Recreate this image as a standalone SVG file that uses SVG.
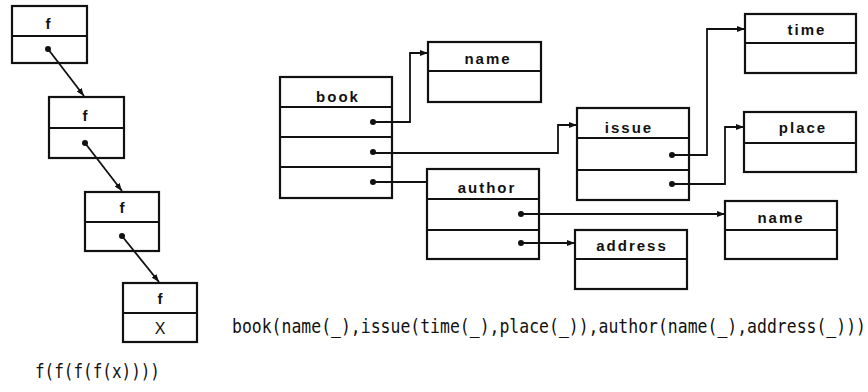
<svg xmlns="http://www.w3.org/2000/svg" width="868" height="392" viewBox="0 0 868 392">
  <style>
    .box { fill: #fff; stroke: #111; stroke-width: 2.2; }
    .div { stroke: #111; stroke-width: 2; }
    .lbl { font-family: "Liberation Sans", Arial, sans-serif; font-weight: bold; font-size: 15px; letter-spacing: 2px; fill: #111; text-anchor: middle; }
    .wire { fill: none; stroke: #111; stroke-width: 1.8; }
    .dot { fill: #111; }
    .code { font-family: "DejaVu Sans Mono", "Liberation Mono", monospace; font-size: 16px; fill: #111; }
  </style>
  <defs>
    <marker id="arrow" viewBox="0 0 8 6" refX="8" refY="3" markerWidth="8" markerHeight="6" markerUnits="userSpaceOnUse" orient="auto">
      <path d="M0,0 L8,3 L0,6 Z" fill="#111"/>
    </marker>
  </defs>

  <rect width="868" height="392" fill="#fff"/>

  <!-- nested f(...) cells -->
  <g id="f1">
    <rect class="box" x="12" y="6" width="75" height="57"/>
    <line class="div" x1="12" y1="36" x2="87" y2="36"/>
    <text class="lbl" x="49" y="29">f</text>
    <circle class="dot" cx="48" cy="49" r="3"/>
  </g>
  <g id="f2">
    <rect class="box" x="49" y="97" width="75" height="61"/>
    <line class="div" x1="49" y1="128" x2="124" y2="128"/>
    <text class="lbl" x="86" y="121">f</text>
    <circle class="dot" cx="85" cy="143" r="3"/>
  </g>
  <g id="f3">
    <rect class="box" x="85" y="192" width="74" height="59"/>
    <line class="div" x1="85" y1="222" x2="159" y2="222"/>
    <text class="lbl" x="123" y="213">f</text>
    <circle class="dot" cx="122" cy="236" r="3"/>
  </g>
  <g id="f4">
    <rect class="box" x="123" y="283" width="74" height="59"/>
    <line class="div" x1="123" y1="313" x2="197" y2="313"/>
    <text class="lbl" x="161" y="304">f</text>
    <text x="160" y="334" font-family="Liberation Sans, Arial, sans-serif" font-size="16" text-anchor="middle" fill="#111">X</text>
  </g>

  <!-- book record and its fields -->
  <g id="book">
    <rect class="box" x="280" y="77" width="112" height="121"/>
    <line class="div" x1="280" y1="107" x2="392" y2="107"/>
    <line class="div" x1="280" y1="137" x2="392" y2="137"/>
    <line class="div" x1="280" y1="167" x2="392" y2="167"/>
    <text class="lbl" x="338" y="102">book</text>
    <circle class="dot" cx="373" cy="122" r="3"/>
    <circle class="dot" cx="373" cy="152" r="3"/>
    <circle class="dot" cx="373" cy="182" r="3"/>
  </g>
  <g id="name1">
    <rect class="box" x="428" y="42" width="113" height="60"/>
    <line class="div" x1="428" y1="71" x2="541" y2="71"/>
    <text class="lbl" x="488" y="64">name</text>
  </g>
  <g id="issue">
    <rect class="box" x="577" y="108" width="112" height="92"/>
    <line class="div" x1="577" y1="138" x2="689" y2="138"/>
    <line class="div" x1="577" y1="170" x2="689" y2="170"/>
    <text class="lbl" x="629" y="133">issue</text>
    <circle class="dot" cx="672" cy="155" r="3"/>
    <circle class="dot" cx="672" cy="184" r="3"/>
  </g>
  <g id="time">
    <rect class="box" x="745" y="14" width="111" height="59"/>
    <line class="div" x1="745" y1="43" x2="856" y2="43"/>
    <text class="lbl" x="807" y="35">time</text>
  </g>
  <g id="place">
    <rect class="box" x="744" y="112" width="112" height="60"/>
    <line class="div" x1="744" y1="143" x2="856" y2="143"/>
    <text class="lbl" x="803" y="133">place</text>
  </g>
  <g id="author">
    <rect class="box" x="427" y="169" width="112" height="90"/>
    <line class="div" x1="427" y1="199" x2="539" y2="199"/>
    <line class="div" x1="427" y1="230" x2="539" y2="230"/>
    <text class="lbl" x="487" y="193">author</text>
    <circle class="dot" cx="521" cy="214" r="3"/>
    <circle class="dot" cx="521" cy="243" r="3"/>
  </g>
  <g id="name2">
    <rect class="box" x="725" y="201" width="112" height="58"/>
    <line class="div" x1="725" y1="230" x2="837" y2="230"/>
    <text class="lbl" x="781" y="223">name</text>
  </g>
  <g id="address">
    <rect class="box" x="575" y="230" width="112" height="59"/>
    <line class="div" x1="575" y1="259" x2="687" y2="259"/>
    <text class="lbl" x="632" y="251">address</text>
  </g>

  <!-- pointers -->
  <g id="connectors">
    <line class="wire" x1="48" y1="49" x2="84" y2="96" marker-end="url(#arrow)"/>
    <line class="wire" x1="85" y1="143" x2="122" y2="191" marker-end="url(#arrow)"/>
    <line class="wire" x1="122" y1="236" x2="159" y2="282" marker-end="url(#arrow)"/>

    <polyline class="wire" points="373,122 410,122 410,53 428,53" marker-end="url(#arrow)"/>
    <polyline class="wire" points="373,153 558,153 558,125 577,125" marker-end="url(#arrow)"/>
    <polyline class="wire" points="373,182 427,182"/>
    <polyline class="wire" points="672,155 707,155 707,29 745,29" marker-end="url(#arrow)"/>
    <polyline class="wire" points="672,184 725,184 725,127 744,127" marker-end="url(#arrow)"/>
    <polyline class="wire" points="521,214 725,214" marker-end="url(#arrow)"/>
    <polyline class="wire" points="521,243 575,243" marker-end="url(#arrow)"/>
  </g>

  <!-- term notation -->
  <text class="code" transform="translate(232,333) scale(1,1.25)" x="0" y="0" textLength="634" lengthAdjust="spacingAndGlyphs">book(name(_),issue(time(_),place(_)),author(name(_),address(_)))</text>
  <text class="code" transform="translate(35,378) scale(1,1.25)" x="0" y="0" textLength="125" lengthAdjust="spacingAndGlyphs">f(f(f(f(x))))</text>
</svg>
